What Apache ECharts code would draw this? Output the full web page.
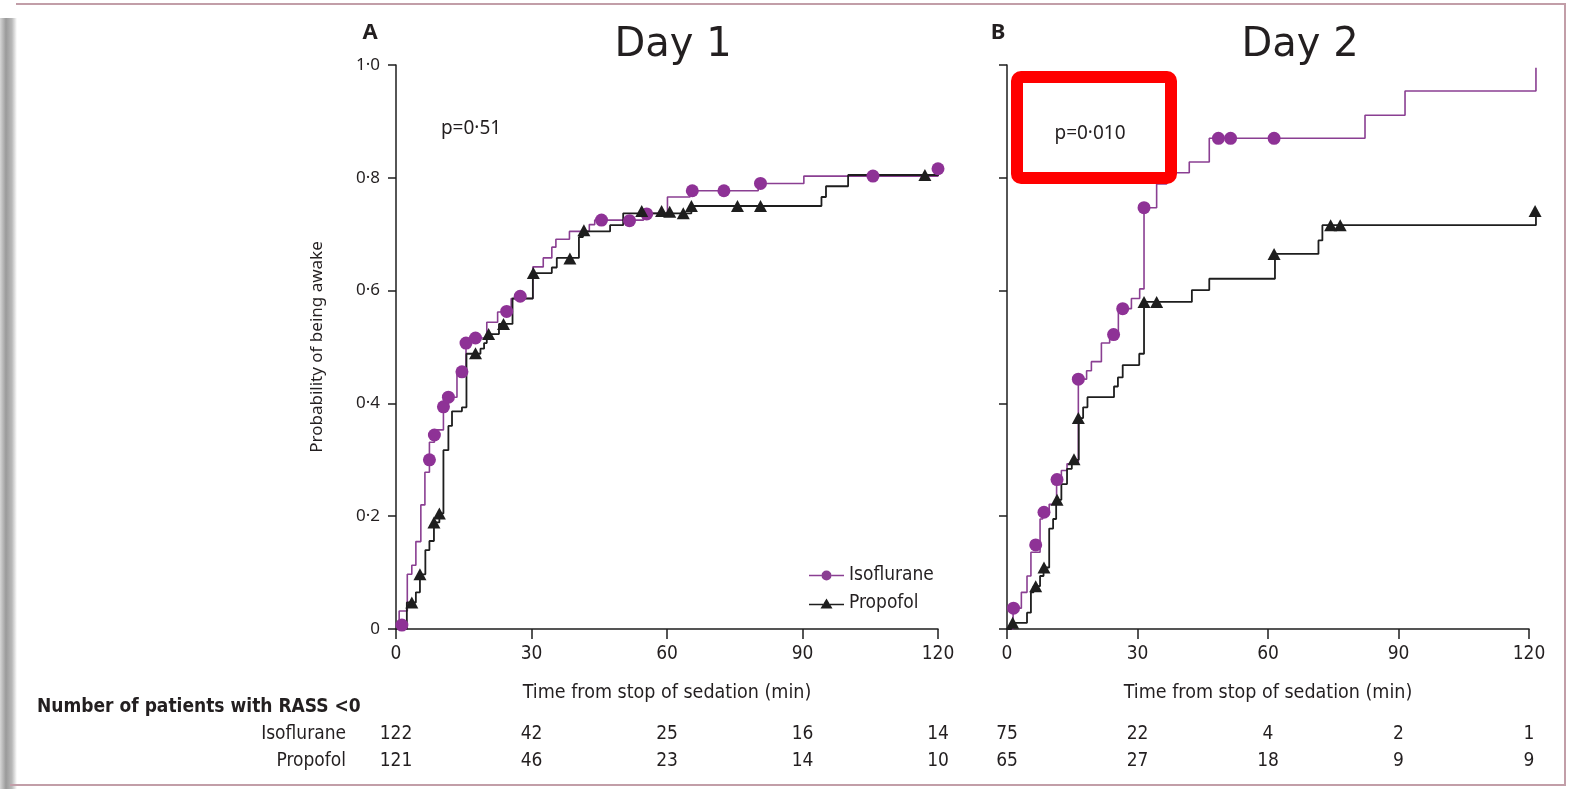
<!DOCTYPE html>
<html>
<head>
<meta charset="utf-8">
<script src="https://cdn.jsdelivr.net/npm/echarts@6.0.0/dist/echarts.min.js"></script>
<style>
html, body { margin: 0; padding: 0; background: #fff; }
#container { width: 1572px; height: 789px; }
</style>
</head>
<body>
<div id="container"></div>
<script>
// time ticks (min) and numbers at risk
var ticks = [0, 30, 60, 90, 120];
var isoAtRiskA = [122, 42, 25, 16, 14];
var proAtRiskA = [121, 46, 23, 14, 10];
var isoAtRiskB = [75, 22, 4, 2, 1];
var proAtRiskB = [65, 27, 18, 9, 9];

// Day 1 - step points [time, probability]
var isoStepsA = [[0, 0], [0.7, 0.032], [2.5, 0.097], [3.5, 0.113], [4.4, 0.155], [5.5, 0.22], [6.4, 0.278],
    [7.4, 0.331], [8.5, 0.353], [10.5, 0.394], [11.6, 0.411], [13.5, 0.455], [15.5, 0.507], [16.5, 0.516],
    [20.1, 0.544], [22.5, 0.562], [25.5, 0.586], [30.3, 0.642], [32.6, 0.658], [34.5, 0.677], [35.4, 0.691],
    [38.4, 0.705], [42.8, 0.717], [44, 0.725], [54.8, 0.737], [60.1, 0.766], [65.1, 0.777], [80.2, 0.79],
    [90.3, 0.803], [120, 0.816]];
var isoMarksA = [[1.3, 0.007], [7.4, 0.30], [8.5, 0.344], [10.5, 0.394], [11.6, 0.411], [14.6, 0.456],
    [15.5, 0.507], [17.6, 0.516], [24.5, 0.563], [27.5, 0.59], [45.5, 0.725], [51.7, 0.724], [55.5, 0.736],
    [65.6, 0.777], [72.6, 0.777], [80.7, 0.79], [105.6, 0.803], [120, 0.816]];
var proStepsA = [[0, 0], [2.4, 0.047], [4.4, 0.065], [5.3, 0.097], [6.5, 0.14], [7.4, 0.156], [8.4, 0.189],
    [9.6, 0.205], [10.5, 0.317], [11.6, 0.36], [12.4, 0.386], [14.6, 0.393], [15.6, 0.488], [18.7, 0.497],
    [19.5, 0.507], [20.1, 0.523], [22.8, 0.541], [25.8, 0.586], [30.3, 0.631], [34.5, 0.641], [35.6, 0.658],
    [40.5, 0.695], [41.4, 0.705], [47.4, 0.716], [50.3, 0.737], [65.4, 0.75], [94.2, 0.766], [95.2, 0.785],
    [100.1, 0.805], [120.2, 0.805]];
var proMarksA = [[3.5, 0.047], [5.3, 0.097], [8.4, 0.189], [9.6, 0.205], [17.6, 0.489], [20.5, 0.523],
    [23.8, 0.541], [30.4, 0.631], [38.5, 0.657], [41.6, 0.707], [54.4, 0.741], [58.8, 0.741], [60.6, 0.74],
    [63.6, 0.737], [65.4, 0.75], [75.6, 0.75], [80.7, 0.75], [117.1, 0.805]];

// Day 2 (the last events sit a little past the 120 tick)
var isoStepsB = [[0, 0], [1.4, 0.037], [3.3, 0.065], [4.6, 0.094], [5.5, 0.136], [7.6, 0.195], [8.2, 0.207],
    [9.7, 0.221], [11.4, 0.265], [12.5, 0.281], [13.8, 0.293], [16.4, 0.443], [18.3, 0.458], [19.4, 0.474],
    [21.7, 0.507], [23.6, 0.522], [25.6, 0.568], [28.6, 0.586], [30.5, 0.603], [31.5, 0.747], [34.4, 0.789],
    [36.7, 0.809], [41.9, 0.828], [46.5, 0.87], [82.3, 0.911], [91.5, 0.954], [121.6, 0.995]];
var isoMarksB = [[1.5, 0.037], [6.6, 0.149], [8.5, 0.207], [11.5, 0.265], [16.4, 0.443], [24.5, 0.522],
    [26.6, 0.568], [31.5, 0.747], [48.6, 0.87], [51.4, 0.87], [61.4, 0.87]];
var proStepsB = [[0, 0], [1.0, 0.011], [4.6, 0.029], [5.5, 0.065], [6.1, 0.076], [7.6, 0.094], [8.4, 0.109],
    [9.7, 0.178], [10.6, 0.195], [11.3, 0.229], [12.5, 0.257], [13.8, 0.284], [14.9, 0.3], [16.5, 0.374],
    [17.5, 0.393], [18.5, 0.411], [24.6, 0.43], [25.5, 0.446], [26.6, 0.468], [30.4, 0.488], [31.5, 0.58],
    [42.5, 0.601], [46.5, 0.621], [61.6, 0.665], [71.6, 0.689], [72.5, 0.716], [121.6, 0.741]];
var proMarksB = [[1.3, 0.011], [6.6, 0.076], [8.5, 0.109], [11.5, 0.229], [15.4, 0.301], [16.4, 0.374],
    [31.5, 0.58], [34.4, 0.58], [61.4, 0.665], [74.4, 0.716], [76.6, 0.716], [121.4, 0.741]];

var PURPLE = '#8e3296';
var PURPLE_LINE = '#8a3f92';
var BLACK = '#1e1e1e';
var TXT = '#231f20';
var NARROW = '"DejaVu Sans Condensed", "Noto Sans", sans-serif';
var SANS = '"Noto Sans", sans-serif';

// panel B plot area: 0..120 min over 522 px; data grid is the same scale stretched to 122 min
var B_LEFT = 1007, B_WIDTH = 522, B_DATA_MAX = 122;

function dotLabel(v) {
    if (v === 0) return '0';
    return v.toFixed(1).replace('.', '·');
}

function mainX(grid) {
    return {
        gridIndex: grid, type: 'value', position: 'bottom', min: 0, max: 120, interval: 30,
        axisLine: {show: true, onZero: false, lineStyle: {color: BLACK, width: 1.5}},
        axisTick: {show: true, inside: false, length: 10, lineStyle: {color: BLACK, width: 1.5}},
        axisLabel: {show: true, color: TXT, fontSize: 19, fontFamily: NARROW, margin: 16},
        splitLine: {show: false},
        name: 'Time from stop of sedation (min)', nameLocation: 'middle', nameGap: 54,
        nameTextStyle: {color: TXT, fontSize: 19.5, fontFamily: NARROW}
    };
}

function riskX(grid, offset, arr) {
    return {
        gridIndex: grid, type: 'value', position: 'bottom', min: 0, max: 120, interval: 30, offset: offset,
        axisLine: {show: false, onZero: false}, axisTick: {show: false}, splitLine: {show: false},
        axisLabel: {
            show: true, color: TXT, fontSize: 19, fontFamily: NARROW, margin: 0, hideOverlap: false,
            formatter: function (v) { return String(arr[ticks.indexOf(v)]); }
        }
    };
}

function mainY(grid, showLabel) {
    var y = {
        gridIndex: grid, type: 'value', min: 0, max: 1, interval: 0.2,
        axisLine: {show: true, lineStyle: {color: BLACK, width: 1.5}},
        axisTick: {show: true, inside: false, length: 8, lineStyle: {color: BLACK, width: 1.5}},
        axisLabel: {show: showLabel, color: TXT, fontSize: 17, fontFamily: SANS, margin: 16, formatter: dotLabel},
        splitLine: {show: false}
    };
    if (showLabel) {
        y.name = 'Probability of being awake';
        y.nameLocation = 'middle';
        y.nameGap = 70;
        y.nameTextStyle = {color: TXT, fontSize: 17, fontFamily: SANS};
    }
    return y;
}

function stepLine(name, data, xi, yi, color, width) {
    return {
        name: name, type: 'line', step: 'end', data: data, xAxisIndex: xi, yAxisIndex: yi,
        showSymbol: false, clip: false, silent: true,
        lineStyle: {color: color, width: width}, itemStyle: {color: color}, z: 2
    };
}

function marks(name, data, xi, yi, color, symbol, size) {
    return {
        name: name, type: 'scatter', data: data, xAxisIndex: xi, yAxisIndex: yi,
        symbol: symbol, symbolSize: size, clip: false, silent: true,
        itemStyle: {color: color, opacity: 1}, z: 3
    };
}

var circleIcon = 'path://M0,4.3L12.5,4.3L12.5,5.7L0,5.7Z M22.5,4.3L35,4.3L35,5.7L22.5,5.7Z M17.5,0A5,5 0 1,1 17.49,0Z';
var triIcon = 'path://M0,5.3L14,5.3L14,6.7L0,6.7Z M21,5.3L35,5.3L35,6.7L21,6.7Z M17.5,0L23.5,10L11.5,10Z';

function txt(text, x, y, font, align) {
    return {
        type: 'text', x: x, y: y, z: 50, silent: true,
        style: {text: text, font: font, fill: TXT, textAlign: align || 'center', textVerticalAlign: 'middle'}
    };
}

var myChart = echarts.init(document.getElementById('container'));
var option = {
    animation: false,
    backgroundColor: '#fff',
    grid: [
        {left: 396, top: 65, width: 542, height: 564, outerBoundsMode: 'none', containLabel: false},
        {left: B_LEFT, top: 65, width: B_WIDTH, height: 564, outerBoundsMode: 'none', containLabel: false},
        {left: B_LEFT, top: 65, width: B_WIDTH * B_DATA_MAX / 120, height: 564, outerBoundsMode: 'none', containLabel: false}
    ],
    xAxis: [
        mainX(0), mainX(1),
        riskX(0, 96, isoAtRiskA), riskX(0, 123, proAtRiskA),
        riskX(1, 96, isoAtRiskB), riskX(1, 123, proAtRiskB),
        {gridIndex: 2, type: 'value', min: 0, max: B_DATA_MAX, show: false}
    ],
    yAxis: [mainY(0, true), mainY(1, false), {gridIndex: 2, type: 'value', min: 0, max: 1, show: false}],
    legend: {
        left: 809, top: 566, orient: 'vertical', itemWidth: 35, itemHeight: 10, itemGap: 9, padding: 0,
        selectedMode: false,
        textStyle: {color: TXT, fontSize: 19, fontFamily: NARROW},
        data: [{name: 'Isoflurane', icon: circleIcon}, {name: 'Propofol', icon: triIcon}]
    },
    series: [
        stepLine('Isoflurane', isoStepsA, 0, 0, PURPLE_LINE, 1.6),
        stepLine('Propofol', proStepsA, 0, 0, BLACK, 1.8),
        marks('isoMarksA', isoMarksA, 0, 0, PURPLE, 'circle', 13),
        marks('proMarksA', proMarksA, 0, 0, BLACK, 'triangle', [13, 12]),
        stepLine('Isoflurane', isoStepsB, 6, 2, PURPLE_LINE, 1.6),
        stepLine('Propofol', proStepsB, 6, 2, BLACK, 1.8),
        marks('isoMarksB', isoMarksB, 6, 2, PURPLE, 'circle', 13),
        marks('proMarksB', proMarksB, 6, 2, BLACK, 'triangle', [13, 12])
    ],
    graphic: [
        // frame and left shadow
        {type: 'rect', shape: {x: 0, y: 18, width: 17, height: 771}, silent: true, z: 0,
            style: {fill: new echarts.graphic.LinearGradient(0, 0, 1, 0, [
                {offset: 0, color: '#d6d6d6'}, {offset: 0.35, color: '#9a9a9a'},
                {offset: 0.7, color: '#b8b8b8'}, {offset: 1, color: '#ffffff'}])}},
        {type: 'line', shape: {x1: 16, y1: 4, x2: 1566, y2: 4}, style: {stroke: '#c29ea8', lineWidth: 2}, silent: true},
        {type: 'line', shape: {x1: 1565, y1: 4, x2: 1565, y2: 786}, style: {stroke: '#c29ea8', lineWidth: 2}, silent: true},
        {type: 'line', shape: {x1: 10, y1: 785, x2: 1566, y2: 785}, style: {stroke: '#c29ea8', lineWidth: 2}, silent: true},
        txt('A', 370, 33, 'bold 22px "Noto Sans", sans-serif'),
        txt('B', 998, 33, 'bold 22px "Noto Sans", sans-serif'),
        txt('Day 1', 673, 46, '40px "DejaVu Sans", sans-serif'),
        txt('Day 2', 1300, 46, '40px "DejaVu Sans", sans-serif'),
        txt('p=0·51', 471, 129, '19px ' + SANS),
        txt('p=0·010', 1090, 134, '19px ' + SANS),
        {type: 'rect', shape: {x: 1017, y: 77, width: 154, height: 101, r: 4}, z: 60, silent: true,
            style: {fill: null, stroke: '#ff0000', lineWidth: 12}},
        txt('Number of patients with RASS <0', 37, 707, 'bold 19px ' + NARROW, 'left'),
        txt('Isoflurane', 346, 734, '19px ' + NARROW, 'right'),
        txt('Propofol', 346, 761, '19px ' + NARROW, 'right')
    ]
};
myChart.setOption(option);
</script>
</body>
</html>
